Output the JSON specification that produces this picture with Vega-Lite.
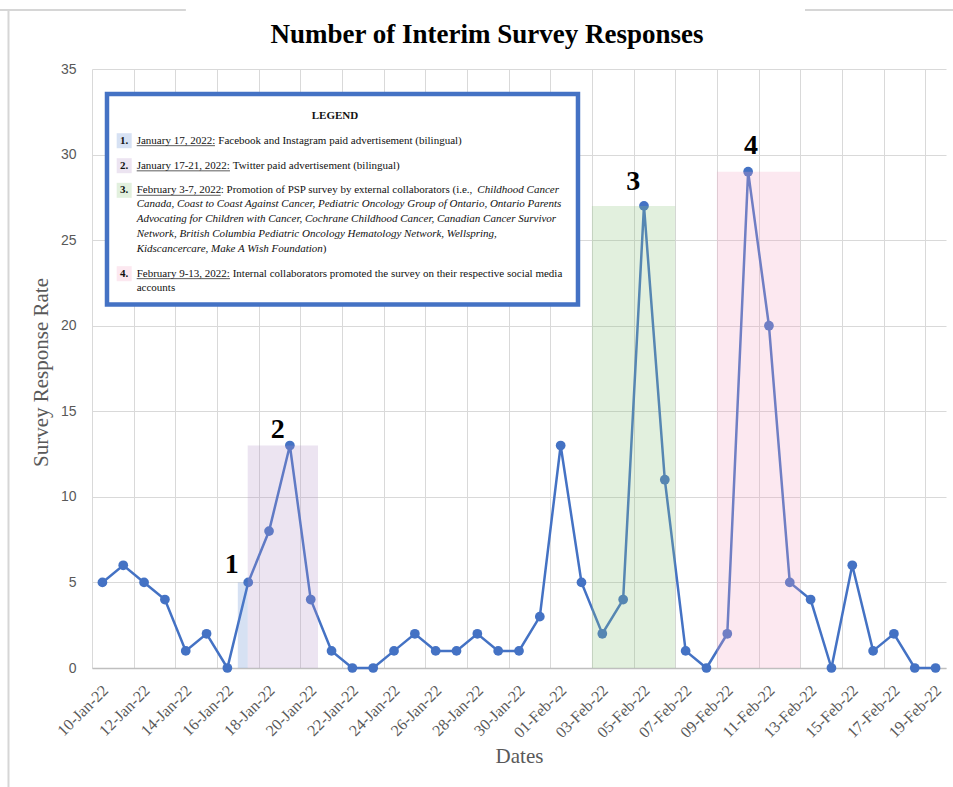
{
  "$schema": "https://vega.github.io/schema/vega-lite/v6.json",
  "width": 854,
  "height": 599,
  "autosize": "none",
  "padding": {"left": 92, "top": 69, "right": 7, "bottom": 119},
  "background": "white",
  "title": {"text": "Number of Interim Survey Responses", "font": "Liberation Serif", "fontSize": 27, "fontWeight": "bold", "color": "#000000", "anchor": "middle", "frame": "group", "dx": -32, "offset": -40},
  "config": {"view": {"stroke": null}},
  "datasets": {
    "responses": [
      {"date": "2022-01-10", "value": 5}, {"date": "2022-01-11", "value": 6}, {"date": "2022-01-12", "value": 5},
      {"date": "2022-01-13", "value": 4}, {"date": "2022-01-14", "value": 1}, {"date": "2022-01-15", "value": 2},
      {"date": "2022-01-16", "value": 0}, {"date": "2022-01-17", "value": 5}, {"date": "2022-01-18", "value": 8},
      {"date": "2022-01-19", "value": 13}, {"date": "2022-01-20", "value": 4}, {"date": "2022-01-21", "value": 1},
      {"date": "2022-01-22", "value": 0}, {"date": "2022-01-23", "value": 0}, {"date": "2022-01-24", "value": 1},
      {"date": "2022-01-25", "value": 2}, {"date": "2022-01-26", "value": 1}, {"date": "2022-01-27", "value": 1},
      {"date": "2022-01-28", "value": 2}, {"date": "2022-01-29", "value": 1}, {"date": "2022-01-30", "value": 1},
      {"date": "2022-01-31", "value": 3}, {"date": "2022-02-01", "value": 13}, {"date": "2022-02-02", "value": 5},
      {"date": "2022-02-03", "value": 2}, {"date": "2022-02-04", "value": 4}, {"date": "2022-02-05", "value": 27},
      {"date": "2022-02-06", "value": 11}, {"date": "2022-02-07", "value": 1}, {"date": "2022-02-08", "value": 0},
      {"date": "2022-02-09", "value": 2}, {"date": "2022-02-10", "value": 29}, {"date": "2022-02-11", "value": 20},
      {"date": "2022-02-12", "value": 5}, {"date": "2022-02-13", "value": 4}, {"date": "2022-02-14", "value": 0},
      {"date": "2022-02-15", "value": 6}, {"date": "2022-02-16", "value": 1}, {"date": "2022-02-17", "value": 2},
      {"date": "2022-02-18", "value": 0}, {"date": "2022-02-19", "value": 0}
    ],
    "bands": [
      {"item": "1", "start": "2022-01-16T12:00:00Z", "end": "2022-01-16T23:24:00Z", "top": 5},
      {"item": "2", "start": "2022-01-16T23:24:00Z", "end": "2022-01-20T08:24:00Z", "top": 13},
      {"item": "3", "start": "2022-02-02T12:00:00Z", "end": "2022-02-06T12:00:00Z", "top": 27},
      {"item": "4", "start": "2022-02-08T12:00:00Z", "end": "2022-02-12T12:00:00Z", "top": 29}
    ],
    "annotations": [
      {"label": "1", "date": "2022-01-16T05:00:00Z", "value": 5.55},
      {"label": "2", "date": "2022-01-18T10:00:00Z", "value": 13.46},
      {"label": "3", "date": "2022-02-04T11:42:00Z", "value": 27.93},
      {"label": "4", "date": "2022-02-10T03:18:00Z", "value": 30.02}
    ],
    "frame": [
      {"start": "2022-01-05T11:47:00Z", "end": "2022-01-05T11:47:00Z", "low": -7.5, "high": 38.45},
      {"start": "2022-01-05T02:00:00Z", "end": "2022-01-14T00:09:00Z", "low": 38.45, "high": 38.45},
      {"start": "2022-02-12T17:31:00Z", "end": "2022-02-20T20:09:00Z", "low": 38.45, "high": 38.45}
    ],
    "legendBox": [
      {"start": "2022-01-10T05:17:00Z", "end": "2022-02-01T19:58:00Z", "low": 21.24, "high": 33.54}
    ],
    "legendSquares": [
      {"item": "1", "date": "2022-01-11T01:06:00Z", "value": 30.81},
      {"item": "2", "date": "2022-01-11T01:06:00Z", "value": 29.35},
      {"item": "3", "date": "2022-01-11T01:06:00Z", "value": 27.91},
      {"item": "4", "date": "2022-01-11T01:06:00Z", "value": 23.04}
    ],
    "legendBold": [
      {"text": "LEGEND", "date": "2022-01-21T04:00:00Z", "value": 32.27},
      {"text": "1.", "date": "2022-01-11T01:06:00Z", "value": 30.81},
      {"text": "2.", "date": "2022-01-11T01:06:00Z", "value": 29.35},
      {"text": "3.", "date": "2022-01-11T01:06:00Z", "value": 27.91},
      {"text": "4.", "date": "2022-01-11T01:06:00Z", "value": 23.04}
    ],
    "legendNormal": [
      {"text": "January 17, 2022:", "date": "2022-01-11T15:30:00Z", "value": 30.81},
      {"text": "Facebook and Instagram paid advertisement (bilingual)", "date": "2022-01-15T13:30:00Z", "value": 30.81},
      {"text": "January 17-21, 2022:", "date": "2022-01-11T15:30:00Z", "value": 29.35},
      {"text": "Twitter paid advertisement (bilingual)", "date": "2022-01-16T06:07:00Z", "value": 29.35},
      {"text": "February 3-7, 2022", "date": "2022-01-11T15:30:00Z", "value": 27.91},
      {"text": ": Promotion of PSP survey by external collaborators (i.e.,", "date": "2022-01-15T16:18:00Z", "value": 27.91},
      {"text": ")", "date": "2022-01-20T13:48:00Z", "value": 24.50},
      {"text": "February 9-13, 2022:", "date": "2022-01-11T15:30:00Z", "value": 23.04},
      {"text": "Internal collaborators promoted the survey on their respective social media", "date": "2022-01-16T06:07:00Z", "value": 23.04},
      {"text": "accounts", "date": "2022-01-11T15:30:00Z", "value": 22.22}
    ],
    "legendItalic": [
      {"text": "Childhood Cancer", "date": "2022-01-28T00:00:00Z", "value": 27.91},
      {"text": "Canada, Coast to Coast Against Cancer, Pediatric Oncology Group of Ontario, Ontario Parents", "date": "2022-01-11T15:30:00Z", "value": 27.09},
      {"text": "Advocating for Children with Cancer, Cochrane Childhood Cancer, Canadian Cancer Survivor", "date": "2022-01-11T15:30:00Z", "value": 26.22},
      {"text": "Network, British Columbia Pediatric Oncology Hematology Network, Wellspring,", "date": "2022-01-11T15:30:00Z", "value": 25.36},
      {"text": "Kidscancercare, Make A Wish Foundation", "date": "2022-01-11T15:30:00Z", "value": 24.50}
    ],
    "underlines": [
      {"start": "2022-01-11T15:30:00Z", "end": "2022-01-15T09:43:00Z", "value": 30.52},
      {"start": "2022-01-11T15:30:00Z", "end": "2022-01-16T03:00:00Z", "value": 29.05},
      {"start": "2022-01-11T15:30:00Z", "end": "2022-01-15T16:18:00Z", "value": 27.62},
      {"start": "2022-01-11T15:30:00Z", "end": "2022-01-16T03:00:00Z", "value": 22.75}
    ]
  },
  "resolve": {"axis": {"x": "independent", "y": "independent"}},
  "layer": [
    {
      "data": {"name": "responses"},
      "mark": {"type": "line", "color": "#4472C4", "strokeWidth": 2.5},
      "encoding": {
        "x": {
          "field": "date", "type": "temporal", "title": "Dates",
          "scale": {"type": "utc", "nice": false, "domain": [{"year": 2022, "month": 1, "date": 9, "hours": 12, "utc": true}, {"year": 2022, "month": 2, "date": 19, "hours": 12, "utc": true}]},
          "axis": {
            "format": "%d-%b-%y", "labelAngle": -45, "labelOverlap": false, "grid": false, "ticks": false,
            "domain": true, "domainColor": "#bfbfbf", "domainWidth": 1.5,
            "labelFont": "Liberation Serif", "labelFontSize": 16, "labelColor": "#595959", "labelPadding": 14, "labelOffset": -3,
            "titleFont": "Liberation Serif", "titleFontSize": 21, "titleFontWeight": "normal", "titleColor": "#595959", "titlePadding": 5,
            "values": [
              {"year": 2022, "month": 1, "date": 10, "utc": true}, {"year": 2022, "month": 1, "date": 12, "utc": true},
              {"year": 2022, "month": 1, "date": 14, "utc": true}, {"year": 2022, "month": 1, "date": 16, "utc": true},
              {"year": 2022, "month": 1, "date": 18, "utc": true}, {"year": 2022, "month": 1, "date": 20, "utc": true},
              {"year": 2022, "month": 1, "date": 22, "utc": true}, {"year": 2022, "month": 1, "date": 24, "utc": true},
              {"year": 2022, "month": 1, "date": 26, "utc": true}, {"year": 2022, "month": 1, "date": 28, "utc": true},
              {"year": 2022, "month": 1, "date": 30, "utc": true}, {"year": 2022, "month": 2, "date": 1, "utc": true},
              {"year": 2022, "month": 2, "date": 3, "utc": true}, {"year": 2022, "month": 2, "date": 5, "utc": true},
              {"year": 2022, "month": 2, "date": 7, "utc": true}, {"year": 2022, "month": 2, "date": 9, "utc": true},
              {"year": 2022, "month": 2, "date": 11, "utc": true}, {"year": 2022, "month": 2, "date": 13, "utc": true},
              {"year": 2022, "month": 2, "date": 15, "utc": true}, {"year": 2022, "month": 2, "date": 17, "utc": true},
              {"year": 2022, "month": 2, "date": 19, "utc": true}
            ]
          }
        },
        "y": {
          "field": "value", "type": "quantitative", "title": "Survey Response Rate",
          "scale": {"domain": [0, 35], "nice": false},
          "axis": {
            "values": [0, 5, 10, 15, 20, 25, 30, 35],
            "grid": true, "gridColor": "#d9d9d9", "gridWidth": 1, "domain": false, "ticks": false,
            "labelPadding": 16, "labelFont": "Liberation Sans", "labelFontSize": 14, "labelColor": "#595959",
            "titleFont": "Liberation Serif", "titleFontSize": 21, "titleFontWeight": "normal", "titleColor": "#595959", "titlePadding": 9, "titleY": 303
          }
        }
      }
    },
    {
      "data": {"name": "frame"},
      "mark": {"type": "rule", "color": "#d6d6d6", "strokeWidth": 2},
      "encoding": {
        "x": {"field": "start", "type": "temporal", "axis": null},
        "x2": {"field": "end"},
        "y": {"field": "low", "type": "quantitative", "axis": null},
        "y2": {"field": "high"}
      }
    },
    {
      "data": {"name": "responses"},
      "mark": {"type": "point", "filled": true, "size": 95, "color": "#4472C4", "opacity": 1},
      "encoding": {
        "x": {"field": "date", "type": "temporal", "axis": null},
        "y": {"field": "value", "type": "quantitative", "axis": null}
      }
    },
    {
      "data": {"name": "bands"},
      "mark": {"type": "rect", "opacity": 0.25},
      "encoding": {
        "x": {
          "field": "start", "type": "temporal",
          "axis": {
            "orient": "top", "grid": true, "gridColor": "#d9d9d9", "gridWidth": 1, "labels": false, "ticks": false, "domain": false, "title": null,
            "values": [
              {"year": 2022, "month": 1, "date": 9, "hours": 12, "utc": true}, {"year": 2022, "month": 1, "date": 11, "hours": 12, "utc": true},
              {"year": 2022, "month": 1, "date": 13, "hours": 12, "utc": true}, {"year": 2022, "month": 1, "date": 15, "hours": 12, "utc": true},
              {"year": 2022, "month": 1, "date": 17, "hours": 12, "utc": true}, {"year": 2022, "month": 1, "date": 19, "hours": 12, "utc": true},
              {"year": 2022, "month": 1, "date": 21, "hours": 12, "utc": true}, {"year": 2022, "month": 1, "date": 23, "hours": 12, "utc": true},
              {"year": 2022, "month": 1, "date": 25, "hours": 12, "utc": true}, {"year": 2022, "month": 1, "date": 27, "hours": 12, "utc": true},
              {"year": 2022, "month": 1, "date": 29, "hours": 12, "utc": true}, {"year": 2022, "month": 1, "date": 31, "hours": 12, "utc": true},
              {"year": 2022, "month": 2, "date": 2, "hours": 12, "utc": true}, {"year": 2022, "month": 2, "date": 4, "hours": 12, "utc": true},
              {"year": 2022, "month": 2, "date": 6, "hours": 12, "utc": true}, {"year": 2022, "month": 2, "date": 8, "hours": 12, "utc": true},
              {"year": 2022, "month": 2, "date": 10, "hours": 12, "utc": true}, {"year": 2022, "month": 2, "date": 12, "hours": 12, "utc": true},
              {"year": 2022, "month": 2, "date": 14, "hours": 12, "utc": true}, {"year": 2022, "month": 2, "date": 16, "hours": 12, "utc": true},
              {"year": 2022, "month": 2, "date": 18, "hours": 12, "utc": true}
            ]
          }
        },
        "x2": {"field": "end"},
        "y": {"field": "top", "type": "quantitative", "axis": null},
        "y2": {"datum": 0},
        "color": {"field": "item", "type": "nominal", "legend": null, "scale": {"domain": ["1", "2", "3", "4"], "range": ["#5b87cf", "#b393c7", "#8bc37b", "#f3a3c3"]}}
      }
    },
    {
      "data": {"name": "annotations"},
      "mark": {"type": "text", "font": "Liberation Serif", "fontSize": 28, "fontWeight": "bold", "color": "#000000", "align": "center", "baseline": "alphabetic"},
      "encoding": {
        "x": {"field": "date", "type": "temporal", "axis": null},
        "y": {"field": "value", "type": "quantitative", "axis": null},
        "text": {"field": "label"}
      }
    },
    {
      "data": {"name": "legendBox"},
      "mark": {"type": "rect", "fill": "#ffffff", "stroke": "#4472C4", "strokeWidth": 4.5},
      "encoding": {
        "x": {"field": "start", "type": "temporal", "axis": null},
        "x2": {"field": "end"},
        "y": {"field": "low", "type": "quantitative", "axis": null},
        "y2": {"field": "high"}
      }
    },
    {
      "data": {"name": "legendSquares"},
      "mark": {"type": "point", "shape": "square", "filled": true, "size": 225, "opacity": 0.25},
      "encoding": {
        "x": {"field": "date", "type": "temporal", "axis": null},
        "y": {"field": "value", "type": "quantitative", "axis": null},
        "color": {"field": "item", "type": "nominal", "legend": null}
      }
    },
    {
      "data": {"name": "legendBold"},
      "mark": {"type": "text", "font": "Liberation Serif", "fontSize": 11, "fontWeight": "bold", "color": "#111111", "align": "center", "baseline": "middle"},
      "encoding": {
        "x": {"field": "date", "type": "temporal", "axis": null},
        "y": {"field": "value", "type": "quantitative", "axis": null},
        "text": {"field": "text"}
      }
    },
    {
      "data": {"name": "legendNormal"},
      "mark": {"type": "text", "font": "Liberation Serif", "fontSize": 11, "color": "#111111", "align": "left", "baseline": "middle"},
      "encoding": {
        "x": {"field": "date", "type": "temporal", "axis": null},
        "y": {"field": "value", "type": "quantitative", "axis": null},
        "text": {"field": "text"}
      }
    },
    {
      "data": {"name": "legendItalic"},
      "mark": {"type": "text", "font": "Liberation Serif", "fontSize": 11, "fontStyle": "italic", "color": "#111111", "align": "left", "baseline": "middle"},
      "encoding": {
        "x": {"field": "date", "type": "temporal", "axis": null},
        "y": {"field": "value", "type": "quantitative", "axis": null},
        "text": {"field": "text"}
      }
    },
    {
      "data": {"name": "underlines"},
      "mark": {"type": "rule", "color": "#333333", "strokeWidth": 0.8},
      "encoding": {
        "x": {"field": "start", "type": "temporal", "axis": null},
        "x2": {"field": "end"},
        "y": {"field": "value", "type": "quantitative", "axis": null}
      }
    }
  ]
}
